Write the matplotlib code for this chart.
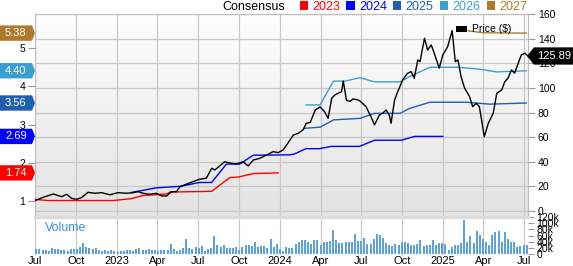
import matplotlib
matplotlib.use('Agg')
import matplotlib.pyplot as plt
import matplotlib.transforms as mtransforms
from matplotlib.patches import Polygon, Patch
import numpy as np
import pandas as pd

plt.rcParams['font.family'] = ['Liberation Sans', 'DejaVu Sans']

# ---- data ----
price_dates = ['2022-07-01', '2022-07-19', '2022-08-11', '2022-08-30', '2022-09-10', '2022-09-21',
               '2022-10-02', '2022-10-13', '2022-10-28', '2022-11-12', '2022-11-27', '2022-12-16',
               '2023-01-03', '2023-01-22', '2023-02-06', '2023-02-17', '2023-02-28', '2023-03-15',
               '2023-03-30', '2023-04-11', '2023-04-22', '2023-05-03', '2023-05-14', '2023-05-22',
               '2023-06-06', '2023-06-20', '2023-07-05', '2023-07-20', '2023-08-01', '2023-08-08',
               '2023-08-19', '2023-08-30', '2023-09-14', '2023-09-25', '2023-10-10', '2023-10-22',
               '2023-11-02', '2023-11-17', '2023-12-02', '2023-12-17', '2023-12-28', '2024-01-08',
               '2024-01-16', '2024-01-31', '2024-02-11', '2024-02-22', '2024-02-29', '2024-03-09',
               '2024-03-20', '2024-03-31', '2024-04-10', '2024-04-18', '2024-04-26', '2024-05-03',
               '2024-05-10', '2024-05-18', '2024-05-22', '2024-05-29', '2024-06-06', '2024-06-13',
               '2024-06-21', '2024-06-28', '2024-07-12', '2024-07-23', '2024-07-31', '2024-08-11',
               '2024-08-18', '2024-08-26', '2024-09-02', '2024-09-06', '2024-09-14', '2024-09-21',
               '2024-10-02', '2024-10-13', '2024-10-21', '2024-10-28', '2024-11-05', '2024-11-10',
               '2024-11-20', '2024-11-27', '2024-12-05', '2024-12-12', '2024-12-23', '2024-12-31',
               '2025-01-11', '2025-01-21', '2025-01-28', '2025-02-03', '2025-02-10', '2025-02-18',
               '2025-03-01', '2025-03-08', '2025-03-16', '2025-03-23', '2025-03-28', '2025-04-03',
               '2025-04-12', '2025-04-23', '2025-05-01', '2025-05-12', '2025-05-19', '2025-05-26',
               '2025-06-03', '2025-06-10', '2025-06-18', '2025-06-25', '2025-07-03', '2025-07-10']
price_vals = [8.4, 11.1, 13.8, 11.6, 13.6, 10.3,
              9.5, 10.8, 15.2, 14.4, 14.9, 13.2,
              14.9, 14.4, 14.9, 15.7, 14.4, 13.6,
              14.4, 12.2, 12.2, 15.7, 15.7, 19.7,
              21.9, 23.8, 25.8, 26.6, 34.7, 33.3,
              36.6, 40.0, 38.8, 38.2, 40.0, 36.6,
              41.4, 42.8, 45.5, 48.2, 47.4, 49.6,
              53.6, 61.7, 63.1, 66.0, 71.2, 72.0,
              82.0, 84.5, 80.7, 75.3, 91.5, 94.2,
              95.6, 96.9, 105.5, 90.0, 89.0, 91.0,
              90.5, 89.5, 84.7, 76.6, 70.0, 78.0,
              79.4, 82.0, 78.0, 71.2, 90.2, 96.9,
              106.4, 111.9, 113.2, 107.8, 122.7, 121.3,
              140.3, 130.8, 134.9, 128.1, 116.0, 126.7,
              133.5, 146.5, 121.3, 122.7, 109.0, 99.7,
              93.0, 84.7, 87.5, 84.7, 73.9, 60.4,
              71.2, 79.4, 95.6, 98.3, 105.0, 107.8,
              114.5, 111.9, 120.0, 126.7, 128.1, 125.89]

eps_2023_dates = ['2022-07-01', '2022-07-30', '2022-12-23', '2023-02-02', '2023-02-28', '2023-04-22',
                  '2023-04-29', '2023-08-01', '2023-09-11', '2023-09-29', '2023-11-02', '2023-12-28']
eps_2023 = [1.05, 1.02, 1.02, 1.07, 1.15, 1.19, 1.24, 1.26, 1.62, 1.63, 1.72, 1.74]

eps_2024_dates = ['2023-02-02', '2023-03-30', '2023-05-22', '2023-07-05', '2023-08-01', '2023-09-03',
                  '2023-10-03', '2023-11-02', '2024-01-23', '2024-02-02', '2024-02-28', '2024-03-30',
                  '2024-04-25', '2024-06-27', '2024-07-31', '2024-09-29', '2024-10-29', '2024-12-31']
eps_2024 = [1.23, 1.35, 1.39, 1.49, 1.49, 1.97, 1.97, 2.20, 2.21, 2.23, 2.37, 2.37,
            2.43, 2.43, 2.59, 2.59, 2.69, 2.69]

eps_2025_dates = ['2024-02-25', '2024-03-31', '2024-04-30', '2024-06-28', '2024-07-31', '2024-09-26',
                  '2024-10-18', '2024-12-02', '2025-02-22', '2025-04-15', '2025-07-06']
eps_2025 = [2.90, 2.93, 3.12, 3.16, 3.29, 3.29, 3.42, 3.58, 3.58, 3.53, 3.56]

eps_2026_dates = ['2024-02-29', '2024-03-31', '2024-04-30', '2024-05-26', '2024-06-28', '2024-07-31',
                  '2024-09-26', '2024-10-18', '2024-12-02', '2025-02-03', '2025-03-24', '2025-05-01',
                  '2025-07-06']
eps_2026 = [3.51, 3.51, 4.13, 4.13, 4.22, 4.11, 4.11, 4.25, 4.49, 4.49, 4.44, 4.37, 4.40]

eps_2027_dates = ['2025-02-26', '2025-03-31', '2025-07-06']
eps_2027 = [5.44, 5.39, 5.38]

years = ['2023', '2024', '2025', '2026', '2027']
year_colors = ['#ff0000', '#0000ff', '#1f5fae', '#3aa0d2', '#b07a2e']

# weekly volume (thousands), from the week of 2022-07-04
volume_k = [17, 15, 14, 12, 10, 20, 16, 15, 13, 13, 9, 15, 15,
            17, 22, 36, 22, 18, 16, 18, 13, 9, 12, 11, 12, 9,
            8, 10, 11, 12, 13, 11, 15, 18, 14, 14, 17, 13, 12,
            11, 12, 14, 14, 32, 16, 10, 14, 20, 50, 19, 17, 22,
            18, 26, 11, 16, 18, 60, 30, 22, 30, 18, 19, 20, 24,
            13, 22, 28, 30, 25, 40, 23, 27, 27, 20, 50, 22, 32,
            16, 11, 22, 20, 20, 33, 38, 44, 46, 38, 33, 44, 46,
            30, 40, 40, 42, 77, 44, 35, 35, 38, 38, 40, 66, 42,
            42, 52, 32, 32, 50, 66, 62, 52, 35, 30, 27, 32, 28,
            38, 40, 36, 28, 28, 32, 46, 25, 30, 30, 46, 28, 35,
            35, 33, 14, 22, 28, 28, 35, 110, 38, 60, 36, 75, 62,
            50, 38, 30, 62, 72, 74, 38, 70, 50, 40, 40, 22, 25,
            28, 30, 26, 30, 25, 35, 12]

tick_dates = ['2022-07-01', '2022-10-01', '2023-01-01', '2023-04-01', '2023-07-01', '2023-10-01',
              '2024-01-01', '2024-04-01', '2024-07-01', '2024-10-01', '2025-01-01', '2025-04-01',
              '2025-07-01']
tick_labels = ['Jul', 'Oct', '2023', 'Apr', 'Jul', 'Oct', '2024', 'Apr', 'Jul', 'Oct', '2025', 'Apr', 'Jul']

price_ticks = [0, 20, 40, 60, 80, 100, 120, 140, 160]
eps_ticks = [1, 2, 3, 4, 5]
vol_ticks = [0, 20, 40, 60, 80, 100, 120]
vol_tick_labels = ['0', '20k', '40k', '60k', '80k', '100k', '120k']

# ---- figure ----
fig = plt.figure(figsize=(5.73, 2.66), dpi=100)
L, W = 35 / 573, 493 / 573
ax_p = fig.add_axes([L, 1 - 216 / 266, W, 202 / 266])
ax_v = fig.add_axes([L, 1 - 254 / 266, W, 37 / 266])

xmin, xmax = pd.Timestamp('2022-07-01'), pd.Timestamp('2025-07-10')
grid_c = '#c8c8c8'

# background gradient
grad = np.linspace(0, 1, 256).reshape(-1, 1)
cmap = matplotlib.colors.LinearSegmentedColormap.from_list('bg', ['#e3e3e3', '#fefefe'])
ax_p.imshow(grad, extent=[0, 1, 1, 0], transform=ax_p.transAxes, aspect='auto',
            cmap=cmap, zorder=0)

tdates = pd.to_datetime(tick_dates)
ax_p.set_xlim(xmin, xmax)
ax_p.set_ylim(-4.06, 160)
ax_p.set_xticks(tdates)
ax_p.set_xticklabels([])
ax_p.set_yticks(price_ticks)
ax_p.grid(True, color=grid_c, lw=0.9)
ax_p.set_axisbelow(True)
ax_p.tick_params(axis='x', length=0)
for s in ['left', 'right', 'top']:
    ax_p.spines[s].set_color('#bcbcbc')
ax_p.spines['bottom'].set_visible(False)

# EPS axis (left)
ax_e = ax_p.twinx()
ax_e.set_ylim(0.617, 5.878)
ax_e.set_yticks(eps_ticks)
for s in ax_e.spines.values():
    s.set_visible(False)

eps_dates = [eps_2023_dates, eps_2024_dates, eps_2025_dates, eps_2026_dates, eps_2027_dates]
eps_vals = [eps_2023, eps_2024, eps_2025, eps_2026, eps_2027]
for d, v, c in zip(eps_dates, eps_vals, year_colors):
    ax_e.plot(pd.to_datetime(d), v, color=c, lw=1.0)

# price line on its own layer so it sits on top
ax_l = ax_p.twinx()
ax_l.set_ylim(ax_p.get_ylim())
ax_l.set_yticks([])
for s in ax_l.spines.values():
    s.set_visible(False)
ax_l.plot(pd.to_datetime(price_dates), price_vals, color='black', lw=1.0)
ax_l.set_xlim(xmin, xmax)

# twinx moves ticks around; put them back
ax_p.yaxis.tick_right()
ax_p.tick_params(axis='y', labelsize=7.5, length=5, color='#999999', pad=2)
ax_e.yaxis.tick_left()
ax_e.tick_params(axis='y', labelsize=7.5, length=5, color='#999999', pad=2)

ax_l.legend(handles=[Patch(facecolor='black')], labels=['Price ($)'], loc='upper right',
            bbox_to_anchor=(0.985, 0.995), frameon=False, fontsize=7.5,
            handlelength=1.0, handleheight=0.55, handletextpad=0.5)

# left value tags
trans_e = mtransforms.blended_transform_factory(ax_e.transAxes, ax_e.transData)
h = 0.2
for v, c in zip(eps_vals, year_colors):
    last = v[-1]
    poly = Polygon([(-0.071, last - h), (-0.006, last - h), (0.0, last),
                    (-0.006, last + h), (-0.071, last + h)], closed=True,
                   facecolor=c, edgecolor='none', transform=trans_e, clip_on=False, zorder=5)
    ax_e.add_patch(poly)
    ax_e.text(-0.039, last, '%.2f' % last, transform=trans_e, color='white', fontsize=8,
              ha='center', va='center', zorder=6, clip_on=False)

# right price tag
trans_p = mtransforms.blended_transform_factory(ax_l.transAxes, ax_l.transData)
last_p = price_vals[-1]
hp = 7.0
ax_l.add_patch(Polygon([(0.998, last_p), (1.012, last_p - hp), (1.092, last_p - hp),
                        (1.092, last_p + hp), (1.012, last_p + hp)], closed=True,
                       facecolor='black', edgecolor='none', transform=trans_p,
                       clip_on=False, zorder=5))
ax_l.text(1.052, last_p, '%.2f' % last_p, transform=trans_p, color='white', fontsize=8,
          ha='center', va='center', zorder=6, clip_on=False)

# volume panel
vdates = pd.date_range('2022-07-04', periods=len(volume_k), freq='7D')
ax_v.bar(vdates, volume_k, width=4.5, color='#5ea2da', zorder=2)
ax_v.set_xlim(xmin, xmax)
ax_v.set_ylim(0, 120)
ax_v.set_xticks(tdates)
ax_v.set_xticklabels(tick_labels, fontsize=8)
ax_v.tick_params(axis='x', length=1, color=grid_c, pad=0.5)
ax_v.grid(True, axis='x', color=grid_c, lw=0.9)
ax_v.set_axisbelow(True)
ax_v.yaxis.tick_right()
ax_v.set_yticks(vol_ticks)
ax_v.set_yticklabels(vol_tick_labels, fontsize=7.5)
ax_v.tick_params(axis='y', length=4, color='#999999', pad=2)
for s in ['left', 'right', 'bottom']:
    ax_v.spines[s].set_visible(False)
ax_v.spines['top'].set_color('#dcdcdc')
ax_v.spines['top'].set_linewidth(2.5)
ax_v.text(0.02, 0.7, 'Volume', transform=ax_v.transAxes, color='#3d8fcf', fontsize=9,
          va='center')

# top legend
fig.text(285 / 573, 1 - 7 / 266, 'Consensus', fontsize=9, ha='right', va='center')
leg = fig.legend(handles=[Patch(facecolor=c) for c in year_colors], labels=years, ncol=5,
                 loc='center right', bbox_to_anchor=(527 / 573, 1 - 7 / 266), frameon=False,
                 fontsize=9, handlelength=0.65, handleheight=0.65, handletextpad=0.35,
                 columnspacing=0.5, borderpad=0, borderaxespad=0)
for t, c in zip(leg.get_texts(), year_colors):
    t.set_color(c)

fig.savefig('out.png', dpi=100)
